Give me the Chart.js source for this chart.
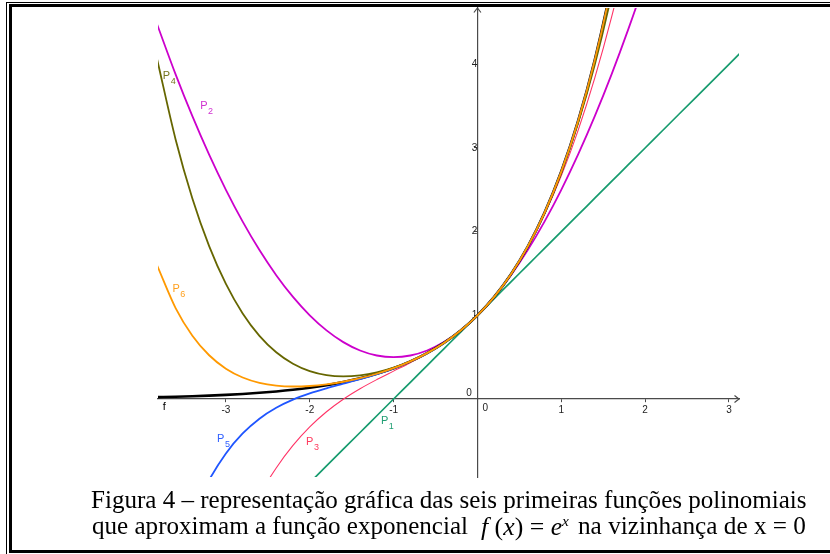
<!DOCTYPE html>
<html><head><meta charset="utf-8">
<script src="https://cdn.jsdelivr.net/npm/chart.js@4.4.1/dist/chart.umd.min.js"></script>
<style>
html,body{margin:0;padding:0;background:#fff;}
#wrap{position:relative;width:830px;height:554px;overflow:hidden;background:#fff;}
#c{position:absolute;left:0;top:0;}
.ln{position:absolute;background:#000;}
.cap{position:absolute;font-family:'Liberation Serif','Times New Roman',serif;font-size:25px;line-height:25px;white-space:nowrap;color:#000;transform-origin:0 0;}
.cap sup{font-size:15px;vertical-align:9px;line-height:0;}
</style></head><body>
<div id="wrap">
<canvas id="c" width="830" height="554"></canvas>
<div class="ln" style="left:6px;top:2px;width:1px;height:552px"></div>
<div class="ln" style="left:6px;top:2px;width:824px;height:1px"></div>
<div class="ln" style="left:9px;top:4px;width:3px;height:549px"></div>
<div class="ln" style="left:9px;top:4px;width:821px;height:3px"></div>
<div class="ln" style="left:9px;top:550px;width:821px;height:3px"></div>
<div class="cap" id="cap1" data-l="90.5" data-r="806" style="top:487px">Figura 4 – representação gráfica das seis primeiras funções polinomiais</div>
<div class="cap" id="cap2a" data-l="92" data-r="468" style="top:513px">que aproximam a função exponencial</div>
<div class="cap" id="cap2b" data-l="481" data-r="569" style="top:514px"><i>f</i> (<i>x</i>) = <i>e</i><sup><i>x</i></sup></div>
<div class="cap" id="cap2c" data-l="578" data-r="806" style="top:513px">na vizinhança de x = 0</div>
</div>
<script>
// sample abscissas
const xs = [-3.82,-3.6,-3.4,-3.2,-3.0,-2.8,-2.6,-2.4,-2.2,-2.0,-1.8,-1.6,-1.4,-1.2,-1.0,-0.8,-0.6,-0.4,-0.2,0,
            0.2,0.4,0.6,0.8,1.0,1.2,1.4,1.6,1.8,2.0,2.2,2.4,2.6,2.8,3.0,3.2];
// f(x) = e^x
const fVals = [0.0219,0.0273,0.0334,0.0408,0.0498,0.0608,0.0743,0.0907,0.1108,0.1353,0.1653,0.2019,0.2466,0.3012,0.3679,0.4493,0.5488,0.6703,0.8187,1,
               1.2214,1.4918,1.8221,2.2255,2.7183,3.3201,4.0552,4.9530,6.0496];
const p1Vals = [-2.82,-2.6,-2.4,-2.2,-2.0,-1.8,-1.6,-1.4,-1.2,-1.0,-0.8,-0.6,-0.4,-0.2,0,0.2,0.4,0.6,0.8,1,
               1.2,1.4,1.6,1.8,2.0,2.2,2.4,2.6,2.8,3.0,3.2,3.4,3.6,3.8,4.0,4.2];
const p2Vals = [4.4762,3.88,3.38,2.92,2.5,2.12,1.78,1.48,1.22,1.0,0.82,0.68,0.58,0.52,0.5,0.52,0.58,0.68,0.82,1,
               1.22,1.48,1.78,2.12,2.5,2.92,3.38,3.88,4.42,5.0,5.62];
const p3Vals = [-4.8143,-3.896,-3.1707,-2.5413,-2.0,-1.5387,-1.1493,-0.824,-0.5547,-0.3333,-0.152,-0.0027,0.1227,0.232,0.3333,0.4347,0.544,0.6693,0.8187,1,
               1.2213,1.4907,1.816,2.2053,2.6667,3.208,3.8373,4.5627,5.392];
const p4Vals = [4.0581,3.1024,2.3974,1.8278,1.375,1.0224,0.7548,0.5584,0.4214,0.3333,0.2854,0.2704,0.2828,0.3184,0.375,0.4517,0.5494,0.6704,0.8187,1,
               1.2214,1.4917,1.8214,2.2224,2.7083,3.2944,3.9974,4.8357,5.8294];
const p5Vals = [-2.7204,-1.9364,-1.3889,-0.9684,-0.65,-0.4118,-0.2353,-0.1052,-0.0081,0.0667,0.1279,0.1830,0.2380,0.2977,0.3667,0.4490,0.5488,0.6703,0.8187,1,
               1.2214,1.4918,1.8221,2.2251,2.7167,3.3151,4.0422,4.9231,5.9869];
const p6Vals = [1.5953,1.0869,0.7567,0.5229,0.3625,0.2575,0.1938,0.1602,0.1494,0.1556,0.1751,0.2063,0.2485,0.3018,0.3681,0.4494,0.5488,0.6703,0.8187,1,
               1.2214,1.4918,1.8221,2.2255,2.7181,3.3193,4.0527,4.9464,6.0341];
const xTicks = [-3,-2,-1,1,2,3];
const yTicks = [1,2,3,4];
const seriesNames = ['f','P1','P2','P3','P4','P5','P6'];

const axisColor = '#4a4a4a';
const tickColor = '#222';
const styles = {
  f:  {color:'#000000', width:2.6, label:'#000000'},
  P1: {color:'#169b6e', width:1.7, label:'#1f9e73'},
  P2: {color:'#cc00cc', width:1.8, label:'#d030d0'},
  P3: {color:'#ff3366', width:1.1, label:'#ff3a5e'},
  P4: {color:'#666600', width:1.8, label:'#75751c'},
  P5: {color:'#1f55ff', width:1.8, label:'#3060ff'},
  P6: {color:'#ff9900', width:1.8, label:'#ffa01e'}
};
const valuesBy = {f:fVals,P1:p1Vals,P2:p2Vals,P3:p3Vals,P4:p4Vals,P5:p5Vals,P6:p6Vals};
// label anchors (data coordinates: left edge, baseline)
const labelAnchors = {
  P4:[-3.752,3.822], P2:[-3.307,3.466], P6:[-3.638,1.277], P5:[-3.105,-0.517],
  P3:[-2.044,-0.544], P1:[-1.150,-0.295], f:[-3.754,-0.131]
};
const drawOrder = ['P6','P4','P5','f','P3','P2','P1']; // first drawn on top

const pts = vals => vals.map((v,i)=>({x:xs[i], y:v}));
const datasets = drawOrder.map(n => ({
  label:n, data:pts(valuesBy[n]), borderColor:styles[n].color, borderWidth:styles[n].width,
  pointRadius:0, fill:false, cubicInterpolationMode:'monotone', clip:0
}));

const overlay = {
  id:'overlay',
  afterDatasetsDraw(chart){
    const {ctx, scales:{x, y}, chartArea:ca} = chart;
    const x0 = x.getPixelForValue(0), y0 = y.getPixelForValue(0);
    ctx.save();
    ctx.strokeStyle = axisColor; ctx.lineWidth = 1.2;
    ctx.beginPath();
    ctx.moveTo(ca.right-4.5, y0-3.5); ctx.lineTo(ca.right, y0); ctx.lineTo(ca.right-4.5, y0+3.5);
    ctx.moveTo(x0-3.5, ca.top+4.5); ctx.lineTo(x0, ca.top); ctx.lineTo(x0+3.5, ca.top+4.5);
    ctx.stroke();
    ctx.fillStyle = tickColor; ctx.font = '10px "Liberation Sans", Arial, sans-serif';
    ctx.textBaseline = 'middle';
    ctx.textAlign = 'left'; ctx.fillText('0', x0+5, y0+9);
    ctx.textAlign = 'right'; ctx.fillText('0', x0-5.5, y0-6);
    ctx.textBaseline = 'alphabetic'; ctx.textAlign = 'left';
    seriesNames.forEach(n => {
      const [lx, ly] = labelAnchors[n];
      const px = x.getPixelForValue(lx), py = y.getPixelForValue(ly);
      ctx.fillStyle = styles[n].label;
      const main = n.charAt(0), sub = n.slice(1);
      ctx.font = '11px "Liberation Sans", Arial, sans-serif';
      ctx.fillText(main, px, py);
      if (sub) {
        const w = ctx.measureText(main).width;
        ctx.font = '9px "Liberation Sans", Arial, sans-serif';
        ctx.fillText(sub, px + w + 0.5, py + 5);
      }
    });
    ctx.restore();
  }
};

new Chart(document.getElementById('c'), {
  type:'line',
  data:{datasets},
  options:{
    responsive:false, animation:false, events:[],
    layout:{padding:{left:158, right:91, top:5, bottom:77}},
    plugins:{legend:{display:false}, tooltip:{enabled:false}},
    scales:{
      x:{type:'linear', min:-3.81, max:3.12, position:{y:0},
        afterBuildTicks: s => { s.ticks = xTicks.map(v => ({value:v})); },
        grid:{drawOnChartArea:false, drawTicks:true, tickLength:3, tickColor:axisColor, tickWidth:1},
        border:{display:true, color:axisColor, width:1.2},
        ticks:{autoSkip:false, maxRotation:0, padding:2, color:tickColor, font:{family:'"Liberation Sans", Arial, sans-serif', size:10}}
      },
      y:{type:'linear', min:-0.932, max:4.673, position:{x:0},
        afterBuildTicks: s => { s.ticks = yTicks.map(v => ({value:v})); },
        grid:{drawOnChartArea:false, drawTicks:true, tickLength:3, tickColor:axisColor, tickWidth:1},
        border:{display:true, color:axisColor, width:1.2},
        ticks:{autoSkip:false, padding:2, color:tickColor, font:{family:'"Liberation Sans", Arial, sans-serif', size:10}}
      }
    }
  },
  plugins:[overlay]
});

document.querySelectorAll('.cap').forEach(el => {
  const l = parseFloat(el.dataset.l), r = parseFloat(el.dataset.r);
  el.style.left = l + 'px';
  const w = el.getBoundingClientRect().width;
  el.style.transform = 'scaleX(' + ((r - l) / w) + ')';
});
</script>
</body></html>
